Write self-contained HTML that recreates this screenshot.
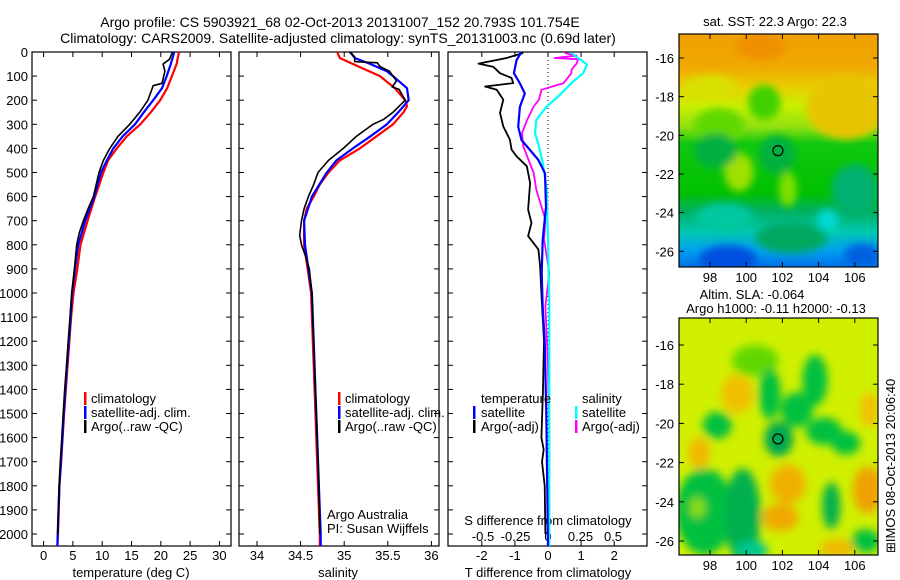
<!DOCTYPE html>
<html><head><meta charset="utf-8"><title>Argo profile</title>
<style>
html,body{margin:0;padding:0;background:#fff;}
svg{display:block;font-family:"Liberation Sans",sans-serif;}
text{fill:#000;}
</style></head>
<body>
<svg id="fig" width="900" height="580" viewBox="0 0 900 580" xmlns="http://www.w3.org/2000/svg">
<defs>
<filter id="blur1" x="-50%" y="-50%" width="200%" height="200%"><feGaussianBlur stdDeviation="4"/></filter>
<filter id="blur2" x="-50%" y="-50%" width="200%" height="200%"><feGaussianBlur stdDeviation="4.5"/></filter>
<clipPath id="clipTop"><rect x="679" y="34" width="199" height="233"/></clipPath>
<clipPath id="clipBot"><rect x="679" y="318" width="199" height="237"/></clipPath>
<linearGradient id="sstGrad" x1="0" y1="0" x2="0" y2="1">
<stop offset="0" stop-color="#f0a000"/><stop offset="0.14" stop-color="#f0a800"/>
<stop offset="0.23" stop-color="#e8d000"/><stop offset="0.31" stop-color="#c8f000"/>
<stop offset="0.40" stop-color="#90e010"/><stop offset="0.47" stop-color="#10c810"/>
<stop offset="0.68" stop-color="#00c000"/><stop offset="0.76" stop-color="#00b060"/>
<stop offset="0.85" stop-color="#00c8b0"/><stop offset="0.93" stop-color="#00a0f0"/>
<stop offset="1" stop-color="#0070e8"/>
</linearGradient>
</defs>
<g id="layer"></g>
<text x="340" y="27" font-size="14" text-anchor="middle">Argo profile: CS 5903921_68 02-Oct-2013 20131007_152 20.793S 101.754E</text>
<text x="338" y="43" font-size="14" text-anchor="middle">Climatology: CARS2009. Satellite-adjusted climatology: synTS_20131003.nc (0.69d later)</text>
<text x="775" y="26" font-size="13" text-anchor="middle">sat. SST: 22.3 Argo: 22.3</text>
<text x="752" y="299" font-size="13" text-anchor="middle">Altim. SLA: -0.064</text>
<text x="776" y="313" font-size="13" text-anchor="middle">Argo h1000: -0.11 h2000: -0.13</text>
<text transform="translate(895,553) rotate(-90)" font-size="13">⊞IMOS 08-Oct-2013 20:06:40</text>
</svg>
<script>
// ---- data ----
const depthClim = [0,50,100,150,200,250,300,350,400,450,500,600,700,800,900,1000,1100,1200,1300,1400,1500,1600,1700,1800,1900,2000,2050];
const tempClim = [23.1,22.7,21.9,21.1,19.9,18.3,16.5,14.2,12.5,11.0,10.2,8.8,7.5,6.3,5.75,5.1,4.7,4.4,4.1,3.8,3.5,3.25,3.0,2.7,2.6,2.45,2.35];
const tempSat = [22.3,21.7,21.0,20.2,18.7,17.1,15.6,13.5,11.9,10.8,9.8,8.65,7.1,5.9,5.35,4.85,4.6,4.3,4.0,3.7,3.45,3.2,2.95,2.7,2.55,2.4,2.35];
const depthArgoT = [0,30,50,80,130,140,160,200,250,300,350,400,450,500,600,650,700,750,800,900,1000,1100,1200,1300,1400,1500,1600,1700,1800,1900,2000];
const tempArgo = [22.0,21.5,20.4,20.7,20.2,18.7,18.4,17.8,16.4,14.7,12.7,11.3,10.2,9.45,8.5,7.6,6.8,6.1,5.65,5.25,4.8,4.5,4.2,3.9,3.6,3.35,3.1,2.85,2.65,2.5,2.4];
const depthSalClim = [0,25,50,100,150,200,225,250,300,350,400,450,500,550,600,650,700,800,900,1000,1200,1400,1600,1800,2000,2050];
const salClim = [34.92,34.95,35.10,35.41,35.58,35.70,35.72,35.68,35.56,35.37,35.18,34.95,34.82,34.72,34.65,34.57,34.54,34.54,34.58,34.62,34.64,34.66,34.68,34.70,34.72,34.72];
const depthSalSat = [0,25,50,80,100,150,200,250,300,350,400,450,500,600,700,800,900,1000,1200,1400,1600,1800,2000,2050];
const salSat = [35.07,35.12,35.30,35.49,35.56,35.72,35.74,35.62,35.49,35.30,35.10,34.91,34.80,34.63,34.54,34.55,34.59,34.63,34.65,34.67,34.69,34.71,34.73,34.73];
const depthSalArgo = [0,20,40,45,60,80,120,145,155,200,250,280,300,350,400,450,500,550,600,650,700,760,800,850,900,1000,1200,1400,1600,1800,2000];
const salArgo = [35.06,35.12,35.12,35.38,35.41,35.52,35.60,35.55,35.63,35.70,35.56,35.45,35.33,35.14,34.99,34.82,34.70,34.65,34.59,34.54,34.51,34.49,34.51,34.56,34.60,34.63,34.65,34.67,34.69,34.71,34.72];
const depthDT = [0,33,88,130,172,227,310,365,407,448,503,643,780,917,1058,1200,1500,2050];
const dTSat = [-0.8,-0.95,-1.03,-0.85,-0.7,-0.85,-0.9,-0.8,-0.54,-0.29,-0.09,-0.06,-0.16,-0.19,-0.16,-0.1,-0.05,0.0];
const depthDTArgo = [4,25,48,62,88,108,129,143,157,198,253,309,364,405,433,474,543,654,709,764,819,888,1026,1200,1400,1600,1650,1700,1800,2000];
const dTArgo = [-0.75,-1.25,-2.1,-1.65,-1.45,-1.1,-1.05,-1.9,-1.55,-1.35,-1.45,-1.35,-1.15,-1.1,-0.95,-0.64,-0.54,-0.6,-0.5,-0.6,-0.29,-0.24,-0.19,-0.12,-0.15,-0.2,-0.13,-0.18,-0.1,-0.08];
const depthDS = [4,52,88,129,184,226,281,336,391,460,571,778,1054,1500,2050];
const dSSat = [0.18,0.30,0.27,0.18,0.08,-0.01,-0.09,-0.10,-0.07,-0.04,-0.01,0.0,0.01,0.01,0.01];
const depthDSArgo = [4,15,25,30,48,60,75,88,129,157,198,226,281,336,391,433,502,571,695,778,917,1054,1300,1600,1900];
const dSArgo = [0.13,0.22,0.05,0.23,0.22,0.20,0.18,0.18,0.12,-0.05,-0.07,-0.11,-0.16,-0.20,-0.19,-0.16,-0.11,-0.09,-0.02,-0.03,0.01,-0.02,0.0,0.01,0.01];
const depthTicks = [0,100,200,300,400,500,600,700,800,900,1000,1100,1200,1300,1400,1500,1600,1700,1800,1900,2000];
const tempTicks = [0,5,10,15,20,25,30];
const salTicks = [34,34.5,35,35.5,36];
const salTickLabels = ["34","34.5","35","35.5","36"];
const dTTicks = [-2,-1,0,1,2];
const dSTicks = [-0.5,-0.25,0,0.25,0.5];
const dSTickLabels = ["-0.5","-0.25","0","0.25","0.5"];
const latTicks = [-16,-18,-20,-22,-24,-26];
const lonTicks = [98,100,102,104,106];
const argoLon = 101.754, argoLat = -20.793;
// SST map blobs: [lon, lat, rxDeg, ryDeg, color]
const sstBlobs = [[100.8,-15.4,1.4,0.7,"#f09000"],[105.5,-18.6,2.2,1.6,"#e8c400"],[98,-17.5,1.5,0.6,"#d8e000"],[101,-18.3,0.9,0.9,"#40d000"],[98.5,-19.5,1.4,0.9,"#60d800"],[99.6,-21.9,0.8,1.0,"#a0e000"],[102.3,-22.8,0.5,0.9,"#80e000"],[101.7,-21,1.0,1.0,"#00b040"],[98.3,-20.8,1.2,0.9,"#00b040"],[106,-22.8,1.3,1.3,"#00b070"],[98.8,-24.2,1.6,0.7,"#00c8a0"],[104.5,-24.4,0.6,0.6,"#00d8d0"],[99,-26.4,1.6,0.7,"#0050e0"],[106.4,-26.2,1.0,0.6,"#0060e0"],[102.5,-25.3,2.0,0.8,"#00a860"]];
// SLA map blobs
const slaBlobs = [[100.5,-16.8,1.3,0.8,"#60d800"],[101.3,-18.5,0.6,1.3,"#00c040"],[103.8,-17.8,0.7,1.3,"#00c040"],[102.8,-19.3,0.9,0.9,"#00c040"],[104.3,-20.4,1.0,0.7,"#00c040"],[105.5,-21,0.8,0.6,"#00c040"],[98.4,-20.1,0.8,0.7,"#00c040"],[101.8,-20.8,0.8,0.9,"#00a850"],[99.5,-18.5,0.9,1.0,"#f0c000"],[97.4,-21.5,0.6,0.8,"#f0b800"],[102.3,-23.1,1.0,1.0,"#f0b000"],[101.9,-24.8,1.0,0.7,"#f0a800"],[106.7,-23.4,0.8,1.2,"#f0a000"],[106.8,-19.3,0.5,0.9,"#f0c000"],[105,-26.4,0.9,0.5,"#f0b800"],[104.7,-24.2,0.5,1.2,"#00b050"],[97.7,-24.5,1.6,2.2,"#00c040"],[99.8,-24.7,1.0,2.4,"#00b050"],[100.3,-26.5,0.9,0.5,"#00c890"],[106.6,-26,0.8,0.6,"#00c040"],[97.3,-24.3,0.4,0.5,"#90e000"]];

// ---- helpers ----
const NS = "http://www.w3.org/2000/svg";
const layer = document.getElementById('layer');
function mk(tag, attrs, parent){ const e=document.createElementNS(NS,tag); for(const k in attrs) e.setAttribute(k,attrs[k]); (parent||layer).appendChild(e); return e; }
const PT=52, PB=546;
function yD(d){ return 52 + 0.241*d; }
function xT(t){ return 43.6 + 5.86*t; }
function xS(s){ return 257 + 87.2*(s-34); }
function xDT(v){ return 548 + 33.1*v; }
function xDS(v){ return 548 + 130*v; }
function xLon(l){ return 710 + (l-98)*18.1; }
function yLatTop(l){ return 58 + (-16-l)*19.33; }
function yLatBot(l){ return 345 + (-16-l)*19.6; }

function line(xs, ds, xf, color, w, name){
  let p = xs.map((v,i)=> (i?'L':'M') + xf(v).toFixed(1) + ' ' + yD(ds[i]).toFixed(1)).join(' ');
  const e = mk('path',{d:p,fill:'none',stroke:color,'stroke-width':w,'stroke-linejoin':'round'});
  
  
}
function panelBox(x0,x1,name){
  const r = mk('rect',{x:x0,y:PT,width:x1-x0,height:PB-PT,fill:'none',stroke:'#000','stroke-width':1.2});
  
  
  depthTicks.forEach(d=>{
    mk('line',{x1:x0,x2:x0+5,y1:yD(d),y2:yD(d),stroke:'#000'});
    mk('line',{x1:x1,x2:x1-5,y1:yD(d),y2:yD(d),stroke:'#000'});
  });
}
function xTicks(vals, labels, xf, name, ly, top){
  vals.forEach((v,i)=>{
    const x=xf(v);
    if(top!==false) mk('line',{x1:x,x2:x,y1:PT,y2:PT+5,stroke:'#000'});
    mk('line',{x1:x,x2:x,y1:PB,y2:PB-5,stroke:'#000'});
    const t=mk('text',{x:x,y:ly,'font-size':13,'text-anchor':'middle'});
    t.textContent = labels[i];
    
    
  });
}
function txt(x,y,s,name,anchor,size){
  const t=mk('text',{x:x,y:y,'font-size':size||13,'text-anchor':anchor||'start'});
  t.textContent=s;
  
  
  return t;
}
function legBar(x,y,color,name){
  const r=mk('rect',{x:x,y:y-11,width:2.5,height:13,fill:color});
  
  
}

// ---- panel 1: temperature ----
panelBox(32,231,'temperature-panel');
depthTicks.forEach(d=>{
  const t=mk('text',{x:28,y:yD(d)+5,'font-size':13,'text-anchor':'end'});
  t.textContent=d;
  
  
});
xTicks(tempTicks, tempTicks.map(String), xT, 'temperature-tick-label', 560);
txt(131,577,'temperature (deg C)','temperature-axis-title','middle');
line(tempClim, depthClim, xT, '#ff0000', 2.2, 'temperature-climatology-line');
line(tempSat, depthClim, xT, '#0000ff', 2.2, 'temperature-satellite-line');
line(tempArgo, depthArgoT, xT, '#000000', 1.6, 'temperature-argo-line');
legBar(84,403,'#ff0000','legend-climatology-marker'); txt(91,403,'climatology','legend-climatology');
legBar(84,417,'#0000ff','legend-satellite-marker'); txt(91,417,'satellite-adj. clim.','legend-satellite');
legBar(84,431,'#000000','legend-argo-marker'); txt(91,431,'Argo(..raw -QC)','legend-argo');

// ---- panel 2: salinity ----
panelBox(239,439,'salinity-panel');
xTicks(salTicks, salTickLabels, xS, 'salinity-tick-label', 560);
txt(338,577,'salinity','salinity-axis-title','middle');
line(salClim, depthSalClim, xS, '#ff0000', 2.2, 'salinity-climatology-line');
line(salSat, depthSalSat, xS, '#0000ff', 2.2, 'salinity-satellite-line');
line(salArgo, depthSalArgo, xS, '#000000', 1.6, 'salinity-argo-line');
legBar(338,403,'#ff0000','legend2-climatology-marker'); txt(345,403,'climatology','legend2-climatology');
legBar(338,417,'#0000ff','legend2-satellite-marker'); txt(345,417,'satellite-adj. clim.','legend2-satellite');
legBar(338,431,'#000000','legend2-argo-marker'); txt(345,431,'Argo(..raw -QC)','legend2-argo');
txt(327,519,'Argo Australia','credit-argo-australia');
txt(327,533,'PI: Susan Wijffels','credit-pi');

// ---- panel 3: differences ----
panelBox(448,647,'difference-panel');
const zl=mk('line',{x1:548,x2:548,y1:PT,y2:PB,stroke:'#000','stroke-dasharray':'1,3'});


xTicks(dTTicks, dTTicks.map(String), xDT, 'dt-tick-label', 560);
dSTicks.forEach((v,i)=>{ txt(xDS(v),541,dSTickLabels[i],'ds-tick-label','middle'); });
txt(548,525,'S difference from climatology','ds-axis-title','middle');
txt(548,577,'T difference from climatology','dt-axis-title','middle');
line(dTArgo, depthDTArgo, xDT, '#000000', 1.8, 'dt-argo-line');
line(dSArgo, depthDSArgo, xDS, '#ff00ff', 1.8, 'ds-argo-line');
line(dSSat, depthDS, xDS, '#00ffff', 2.2, 'ds-satellite-line');
line(dTSat, depthDT, xDT, '#0000ff', 2.2, 'dt-satellite-line');
txt(481,403,'temperature','legend3-temperature-header');
legBar(473,417,'#0000ff','legend3-t-satellite-marker'); txt(481,417,'satellite','legend3-t-satellite');
legBar(473,431,'#000000','legend3-t-argo-marker'); txt(481,431,'Argo(-adj)','legend3-t-argo');
txt(582,403,'salinity','legend3-salinity-header');
legBar(575,417,'#00ffff','legend3-s-satellite-marker'); txt(582,417,'satellite','legend3-s-satellite');
legBar(575,431,'#ff00ff','legend3-s-argo-marker'); txt(582,431,'Argo(-adj)','legend3-s-argo');

// ---- maps ----
function mapPanel(top, h, yLat, sy, clip, base, blobs, filt, name){
  const g=mk('g',{'clip-path':'url(#'+clip+')'});
  
  
  mk('rect',{x:679,y:top,width:199,height:h,fill:base},g);
  const bg=mk('g',{filter:'url(#'+filt+')'},g);
  blobs.forEach(b=>{
    const e=mk('ellipse',{cx:xLon(b[0]),cy:yLat(b[1]),rx:b[2]*18.1,ry:b[3]*sy,fill:b[4]},bg);
    
    
  });
  mk('rect',{x:679,y:top,width:199,height:h,fill:'none',stroke:'#000','stroke-width':1.2});
  latTicks.forEach(l=>{
    const y=yLat(l);
    mk('line',{x1:679,x2:684,y1:y,y2:y,stroke:'#000'});
    mk('line',{x1:878,x2:873,y1:y,y2:y,stroke:'#000'});
    txt(674,y+5,String(l),'lat-tick-label','end');
  });
  lonTicks.forEach(l=>{
    const x=xLon(l);
    mk('line',{x1:x,x2:x,y1:top,y2:top+5,stroke:'#000'});
    mk('line',{x1:x,x2:x,y1:top+h,y2:top+h-5,stroke:'#000'});
    txt(x,top+h+15,String(l),'lon-tick-label','middle');
  });
  const c=mk('circle',{cx:xLon(argoLon),cy:yLat(argoLat),r:5,fill:'none',stroke:'#000','stroke-width':1.2});
  
  
}
mapPanel(34, 233, yLatTop, 19.33, 'clipTop', 'url(#sstGrad)', sstBlobs, 'blur1', 'sst-map');
mapPanel(318, 237, yLatBot, 19.6, 'clipBot', '#d0f000', slaBlobs, 'blur2', 'sla-map');
</script>
</body></html>
